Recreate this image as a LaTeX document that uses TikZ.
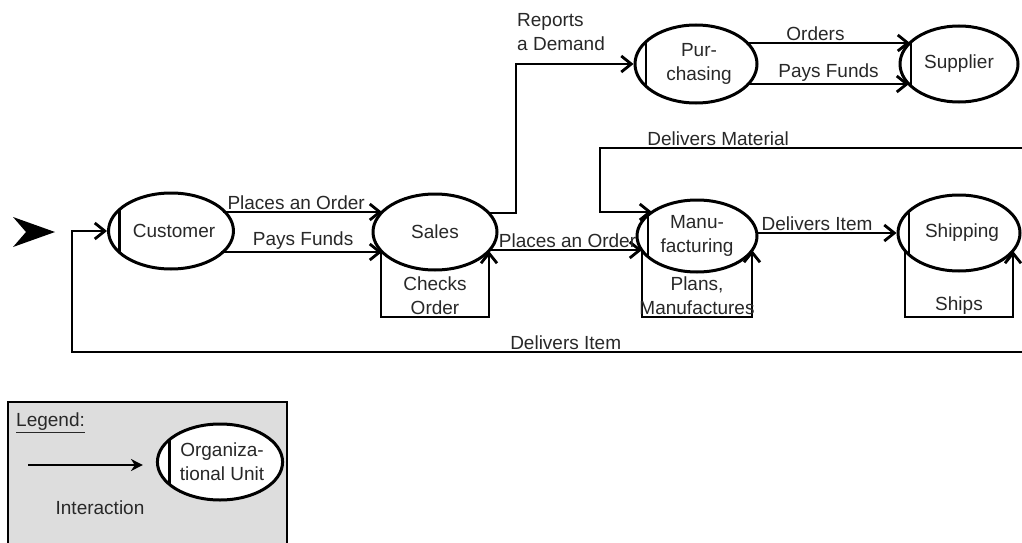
\documentclass[tikz,border=0pt]{standalone}
\usepackage{fontspec}
\setmainfont{Liberation Sans}
\usetikzlibrary{shapes.geometric,arrows.meta}
\newcommand\lbfont{\fontsize{19}{24}\selectfont}
\definecolor{legendgray}{RGB}{221,221,221}
\definecolor{txtgray}{RGB}{40,40,40}
\begin{document}
\begin{tikzpicture}[x=1pt,y=-1pt,
  unit/.style={ellipse, draw=black, line width=3pt, inner sep=0pt, align=center,
    font=\lbfont, text=txtgray, fill=white},
  bar/.style={path picture={\draw[line width=2.4pt]
    ([xshift=#1]path picture bounding box.south west) --
    ([xshift=#1]path picture bounding box.north west);}},
  bar/.default=11pt,
  arr/.style={line width=2.8pt, line join=miter, -{Straight Barb[length=10pt,width=16pt]}},
  lbl/.style={font=\lbfont, text=txtgray, inner sep=1pt, align=center}]
\clip (0,0) rectangle (1022,543);
\fill[white] (0,0) rectangle (1022,543);

% units
\node[unit, bar, minimum width=120pt, minimum height=76pt] (cust) at (171,231) {\hspace*{6pt}Customer};
\node[unit, minimum width=124pt, minimum height=76pt] (sales) at (435,232) {Sales};
\node[unit, bar, minimum width=122pt, minimum height=78pt] (pur) at (696,64) {\hspace*{6pt}Pur-\\\hspace*{6pt}chasing};
\node[unit, bar, minimum width=118pt, minimum height=76pt] (sup) at (959,64) {Supplier};
\node[unit, bar, minimum width=120pt, minimum height=72pt] (manu) at (697,236) {Manu-\\facturing};
\node[unit, bar, minimum width=122pt, minimum height=76pt] (ship) at (959,233) {\hspace*{6pt}Shipping};

% input arrowhead
\fill[black] (13,217) -- (55,232) -- (13,247) -- (26,232) -- cycle;

% return: Delivers Item
\coordinate (retR) at (1025,352);
\draw[arr] (retR) -| ([xshift=-35pt]cust.west) node[lbl,above,pos=0.241]{Delivers Item} -- (cust.west);

% Customer -> Sales
\draw[arr] ([shift={(52,-19)}]cust.center) -- node[lbl,above,pos=0.46]{Places an Order} ([shift={(-53,-20)}]sales.center);
\draw[arr] ([shift={(50,21)}]cust.center) -- node[lbl,above,pos=0.51]{Pays Funds} ([shift={(-53,20)}]sales.center);

% Sales loop
\draw[arr] ([shift={(-54,19)}]sales.center) -- ++(0,66) -| node[lbl,above,pos=0.25]{Checks\\Order} ([shift={(54,19)}]sales.center);

% Sales -> Purchasing
\draw[arr] ([shift={(54,-19)}]sales.center) -- ++(27,0) |- (pur.west);
\node[lbl, align=left, anchor=west] (rep) at (516,32) {Reports\\a Demand};

% Purchasing -> Supplier
\draw[arr] ([shift={(51,-21)}]pur.center) -- node[lbl,above,pos=0.42]{Orders} ([shift={(-49,-21)}]sup.center);
\draw[arr] ([shift={(52,20)}]pur.center) -- node[lbl,above,pos=0.5]{Pays Funds} ([shift={(-50,20)}]sup.center);

% Delivers Material
\coordinate (dmR) at (1025,148);
\draw[arr] (dmR) -| node[lbl,above,pos=0.361]{Delivers Material} ([shift={(-97,-24)}]manu.center) -- ([shift={(-45,-24)}]manu.center);

% Sales -> Manufacturing
\draw[arr] ([shift={(55,18)}]sales.center) -- node[lbl,above,pos=0.51]{Places an Order} ([shift={(-55,14)}]manu.center);

% Manufacturing loop
\draw[arr] ([shift={(-55,14)}]manu.center) -- ++(0,67) -| node[lbl,above,pos=0.25]{Plans,\\Manufactures} ([shift={(55,14)}]manu.center);

% Manufacturing -> Shipping
\draw[arr] ([shift={(60,-3)}]manu.center) -- node[lbl,above,pos=0.43]{Delivers Item} (ship.west);

% Shipping loop
\draw[arr] ([shift={(-54,18)}]ship.center) -- ++(0,66) -| node[lbl,above,pos=0.25]{Ships} ([shift={(54,18)}]ship.center);

% Legend
\draw[line width=2pt, fill=legendgray] (8,402) rectangle (287,560);
\node[lbl, anchor=west] (legt) at (15,423) {\underline{Legend:}};
\node[unit, bar=12pt, minimum width=124pt, minimum height=76pt] (org) at (220,462) {\hspace*{4pt}Organiza-\\\hspace*{4pt}tional Unit};
\coordinate (intA) at (28,465);
\draw[line width=2.6pt, -{Stealth[length=12pt,width=12pt]}] (intA) -- ([shift={(-13,3)}]org.west);
\node[lbl] (inter) at (100,508) {Interaction};
\end{tikzpicture}
\end{document}
